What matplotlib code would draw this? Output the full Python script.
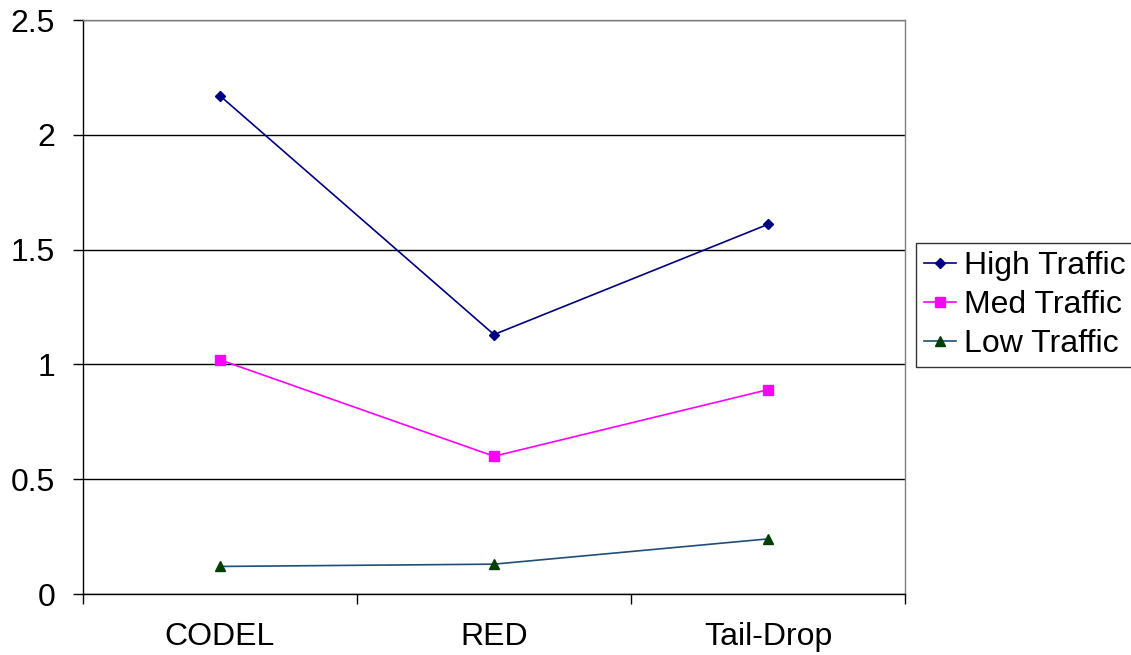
import numpy as np
import matplotlib
matplotlib.use("Agg")
import matplotlib.pyplot as plt

plt.rcParams['font.family'] = ['Liberation Sans', 'DejaVu Sans']

FONTSIZE = 23

categories = ["CODEL", "RED", "Tail-Drop"]
high_traffic = [2.17, 1.13, 1.61]
med_traffic = [1.02, 0.60, 0.89]
low_traffic = [0.12, 0.13, 0.24]

fig = plt.figure(figsize=(11.31, 6.55), dpi=100)
ax = fig.add_axes([83/1131, 61/655, 822/1131, 574/655])

x = np.arange(len(categories))
ax.plot(x, high_traffic, '-', color='#000080', linewidth=1.2,
        marker='D', markersize=5, label="High Traffic")
ax.plot(x, med_traffic, '-', color='#FF00FF', linewidth=1.2,
        marker='s', markersize=6.5, label="Med Traffic")
ax.plot(x, low_traffic, '-', color='#1F4E79', linewidth=1.2,
        marker='^', markersize=7, markerfacecolor='#004000',
        markeredgecolor='#004000', label="Low Traffic")

ax.set_xlim(-0.5, len(categories) - 0.5)
ax.set_ylim(0, 2.5)
ax.set_yticks(np.arange(0, 2.51, 0.5))
ax.set_yticklabels(["0", "0.5", "1", "1.5", "2", "2.5"])
ax.yaxis.grid(True, color='black', linewidth=1)
ax.set_axisbelow(True)

# category labels centred, tick marks between categories
ax.set_xticks(x)
ax.set_xticklabels(categories)
ax.set_xticks(np.arange(-0.5, len(categories), 1.0), minor=True)
ax.tick_params(axis='x', which='major', length=0, pad=20, labelsize=FONTSIZE)
ax.tick_params(axis='x', which='minor', length=7, width=1, direction='out')
ax.tick_params(axis='y', length=7, width=1, direction='out', pad=13, labelsize=FONTSIZE)

for side in ['left', 'bottom']:
    ax.spines[side].set_color('black')
    ax.spines[side].set_linewidth(1)
for side in ['top', 'right']:
    ax.spines[side].set_color('#808080')
    ax.spines[side].set_linewidth(1)

leg = ax.legend(loc='upper left', bbox_to_anchor=(916/1131, 1 - 243/655),
                bbox_transform=fig.transFigure, borderaxespad=0,
                fontsize=FONTSIZE, frameon=True, fancybox=False,
                handlelength=1.0, handletextpad=0.25, labelspacing=0.28,
                borderpad=0.25)
leg.get_frame().set_edgecolor('black')
leg.get_frame().set_linewidth(1)

fig.savefig("out.png", dpi=100)
